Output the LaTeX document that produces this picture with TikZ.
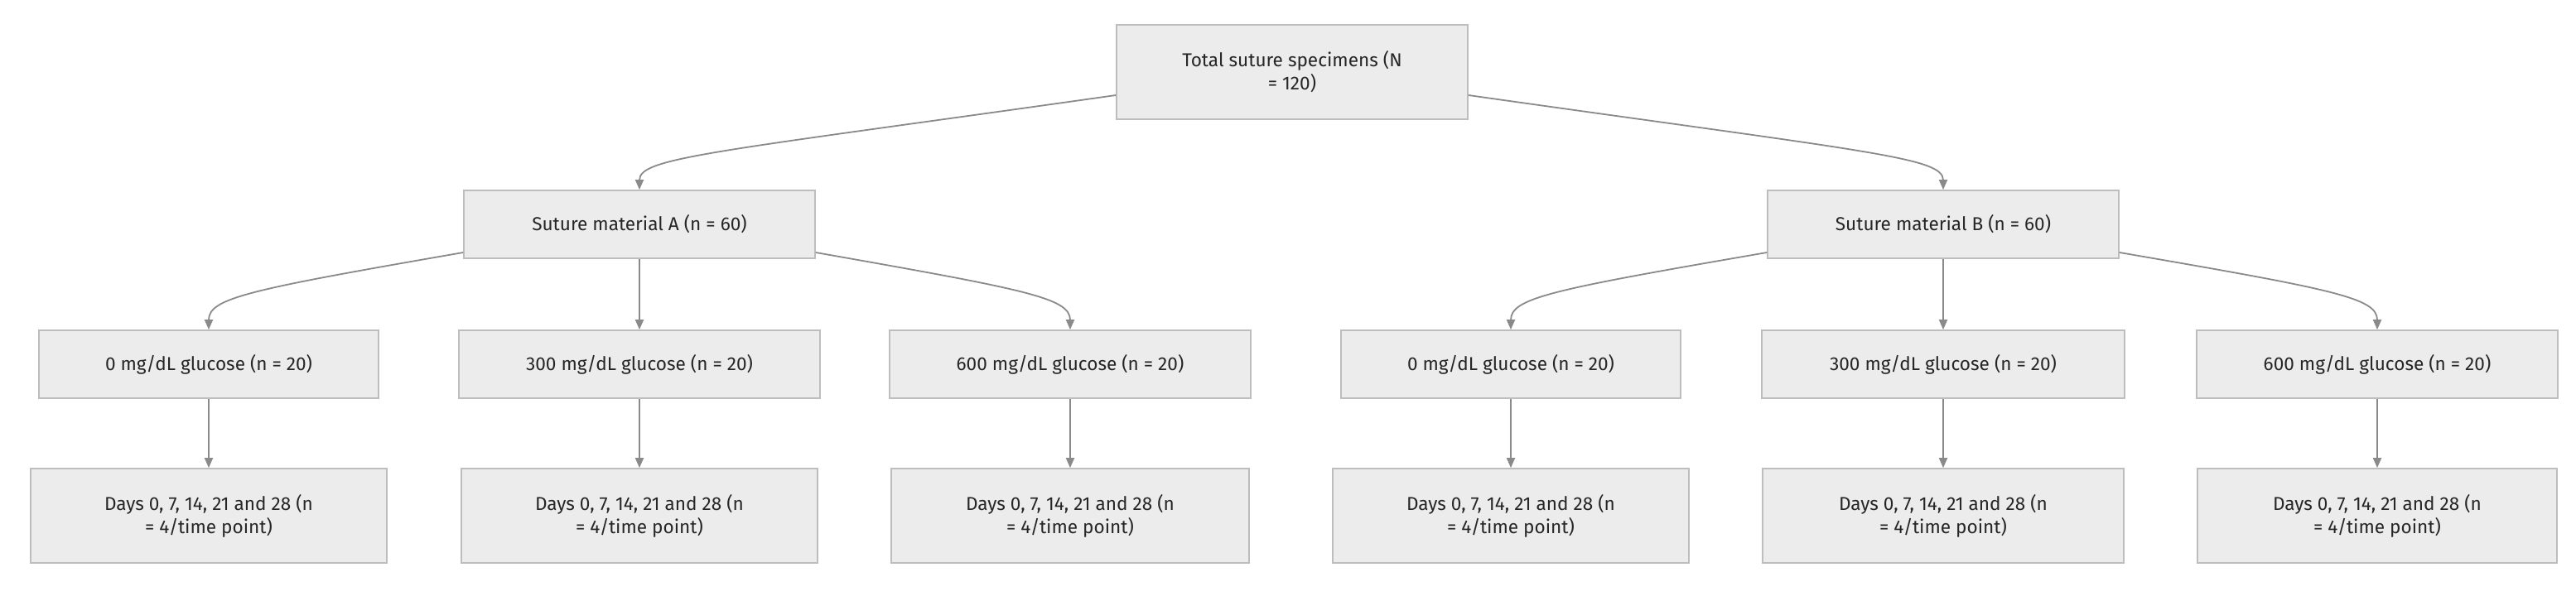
\documentclass[tikz,border=0pt]{standalone}
\usepackage{fontspec}
\setmainfont{Fira Sans}
\usetikzlibrary{arrows.meta}
\definecolor{bx}{HTML}{ECECEC}
\definecolor{bd}{HTML}{BDBDBD}
\definecolor{ln}{HTML}{8A8A8A}
\begin{document}
\begin{tikzpicture}[x=1pt,y=-1pt,
 box/.style={draw=bd,fill=bx,line width=0.8pt,inner sep=0pt,align=center,font=\fontsize{11.3}{14}\selectfont,text=black!85},
 ar/.style={draw=ln,line width=0.9pt,-{Triangle[length=6pt,width=5pt]}}]
\useasboundingbox (0,0) rectangle (1555,363);
\node[box,minimum width=212,minimum height=57] (T) at (780,43.5) {Total suture specimens (N\\= 120)};
\node[box,minimum width=212,minimum height=41] (A) at (386,135.5) {Suture material A (n = 60)};
\node[box,minimum width=212,minimum height=41] (B) at (1173,135.5) {Suture material B (n = 60)};
\foreach \n/\x/\w/\t in {a0/126/205/0, a3/386/218/300, a6/646/218/600, b0/912/205/0, b3/1173/219/300, b6/1435/218/600}{
 \node[box,minimum width=\w,minimum height=41] (\n) at (\x,220) {\t\ mg/dL glucose (n = 20)};
}
\foreach \n/\x/\w in {d0/126/215, d3/386/215, d6/646/216, e0/912/215, e3/1173/218, e6/1435/217}{
 \node[box,minimum width=\w,minimum height=57] (\n) at (\x,311.5) {Days 0, 7, 14, 21 and 28 (n\\= 4/time point)};
}
\draw[ar] ([yshift=-14pt]T.west) .. controls (430,92) and (386,95) .. (A.north);
\draw[ar] ([yshift=-14pt]T.east) .. controls (1130,92) and (1173,95) .. (B.north);
\draw[ar] ([yshift=-17pt]A.west) .. controls (150,175) and (126,180) .. (a0.north);
\draw[ar] (A.south) -- (a3.north);
\draw[ar] ([yshift=-17pt]A.east) .. controls (620,175) and (646,180) .. (a6.north);
\draw[ar] ([yshift=-17pt]B.west) .. controls (936,175) and (912,180) .. (b0.north);
\draw[ar] (B.south) -- (b3.north);
\draw[ar] ([yshift=-17pt]B.east) .. controls (1410,175) and (1435,180) .. (b6.north);
\draw[ar] (a0) -- (d0);
\draw[ar] (a3) -- (d3);
\draw[ar] (a6) -- (d6);
\draw[ar] (b0) -- (e0);
\draw[ar] (b3) -- (e3);
\draw[ar] (b6) -- (e6);
\end{tikzpicture}
\end{document}
